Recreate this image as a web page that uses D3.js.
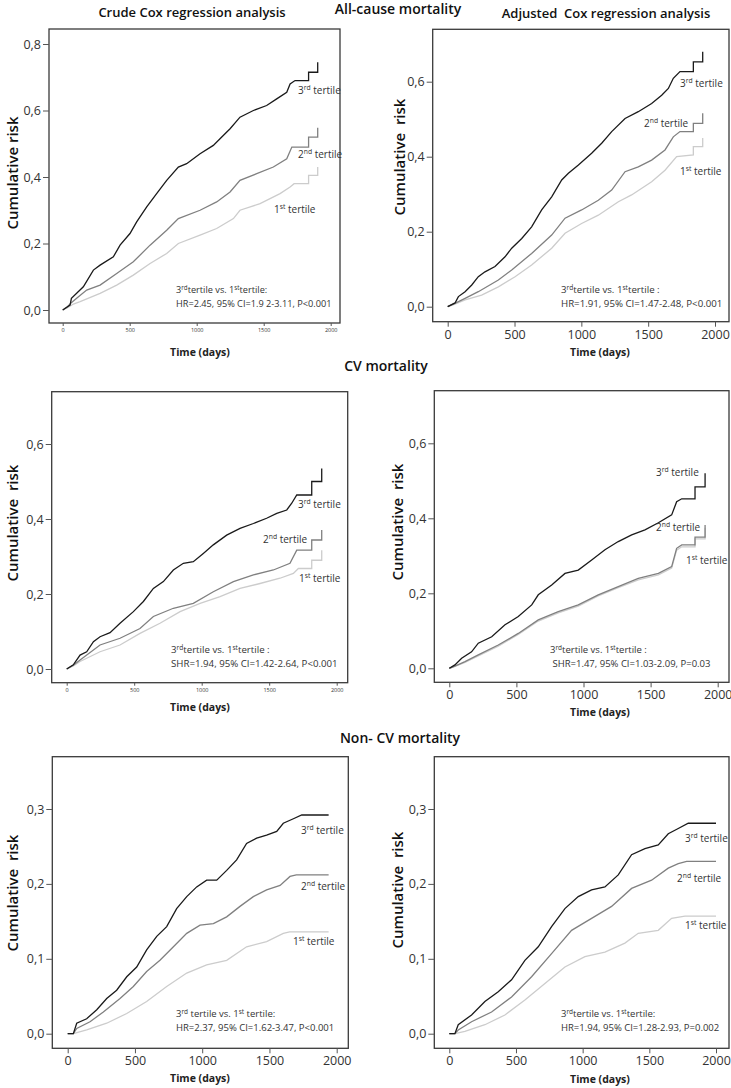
<!DOCTYPE html>
<html>
<head>
<meta charset="utf-8">
<script src="https://cdn.jsdelivr.net/npm/d3@7"></script>
<style>
  body { margin: 0; background: #fff; }
  text { font-family: "Open Sans", sans-serif; }
</style>
</head>
<body>
<script>
// Cumulative risk curves, [day, risk]
const allCrude3 = [[0,0],[55,0.015],[65,0.035],[154,0.07],[229,0.12],[279,0.135],[378,0.16],[428,0.195],[502,0.23],[552,0.265],[627,0.31],[701,0.35],[776,0.39],[863,0.43],[925,0.44],[1025,0.47],[1124,0.495],[1174,0.515],[1249,0.545],[1323,0.58],[1423,0.6],[1522,0.615],[1597,0.635],[1672,0.655],[1697,0.68],[1734,0.69],[1835,0.69],[1835,0.715],[1903,0.715],[1903,0.745]];
const allCrude2 = [[0,0],[30,0.008],[60,0.02],[104,0.035],[179,0.06],[279,0.075],[403,0.11],[527,0.145],[652,0.195],[776,0.24],[863,0.275],[1025,0.3],[1149,0.325],[1249,0.355],[1323,0.39],[1448,0.41],[1572,0.43],[1672,0.455],[1710,0.49],[1835,0.49],[1835,0.52],[1903,0.52],[1903,0.548]];
const allCrude1 = [[0,0],[40,0.008],[80,0.018],[130,0.025],[279,0.05],[403,0.075],[527,0.105],[652,0.14],[776,0.17],[863,0.2],[1025,0.225],[1149,0.245],[1274,0.275],[1323,0.3],[1473,0.32],[1622,0.35],[1697,0.37],[1727,0.38],[1835,0.38],[1835,0.405],[1903,0.405],[1903,0.43]];

const allAdj3 = [[0,0],[55,0.01],[80,0.027],[130,0.04],[180,0.058],[229,0.08],[279,0.093],[354,0.107],[429,0.133],[479,0.156],[554,0.182],[628,0.213],[703,0.258],[778,0.293],[853,0.338],[903,0.356],[978,0.378],[1077,0.409],[1152,0.436],[1227,0.467],[1327,0.502],[1426,0.52],[1526,0.542],[1601,0.564],[1651,0.582],[1688,0.609],[1738,0.627],[1838,0.627],[1838,0.653],[1908,0.653],[1908,0.68]];
const allAdj2 = [[0,0],[50,0.008],[130,0.022],[229,0.04],[379,0.071],[479,0.098],[628,0.142],[778,0.191],[878,0.236],[1002,0.258],[1127,0.284],[1227,0.311],[1327,0.36],[1426,0.373],[1526,0.391],[1626,0.418],[1688,0.453],[1738,0.467],[1838,0.467],[1838,0.489],[1908,0.489],[1908,0.516]];
const allAdj1 = [[0,0],[50,0.006],[130,0.018],[254,0.031],[379,0.053],[504,0.08],[628,0.111],[778,0.156],[878,0.196],[1002,0.222],[1127,0.244],[1277,0.28],[1376,0.298],[1526,0.333],[1626,0.364],[1713,0.4],[1838,0.405],[1838,0.427],[1908,0.427],[1908,0.45]];

const cvCrude3 = [[0,0],[49,0.011],[99,0.037],[148,0.046],[198,0.073],[247,0.086],[321,0.097],[395,0.122],[494,0.153],[568,0.18],[642,0.215],[716,0.233],[790,0.264],[864,0.282],[938,0.286],[1012,0.308],[1086,0.331],[1185,0.357],[1284,0.375],[1383,0.388],[1481,0.402],[1556,0.415],[1630,0.424],[1667,0.442],[1704,0.464],[1815,0.464],[1815,0.5],[1889,0.5],[1889,0.535]];
const cvCrude2 = [[0,0],[49,0.01],[99,0.024],[247,0.064],[395,0.082],[543,0.108],[642,0.14],[790,0.162],[938,0.175],[1086,0.206],[1235,0.233],[1383,0.251],[1531,0.264],[1654,0.282],[1704,0.317],[1815,0.317],[1815,0.344],[1889,0.344],[1889,0.371]];
const cvCrude1 = [[0,0],[49,0.008],[99,0.02],[247,0.046],[395,0.064],[543,0.095],[691,0.122],[840,0.153],[988,0.175],[1136,0.193],[1284,0.215],[1432,0.228],[1580,0.242],[1679,0.255],[1716,0.268],[1815,0.268],[1815,0.29],[1889,0.29],[1889,0.317]];

const cvAdj3 = [[0,0],[42,0.009],[92,0.027],[166,0.044],[216,0.067],[316,0.084],[415,0.116],[514,0.138],[614,0.169],[663,0.196],[763,0.222],[862,0.253],[961,0.262],[1061,0.289],[1160,0.316],[1259,0.338],[1359,0.356],[1458,0.369],[1558,0.388],[1657,0.409],[1694,0.444],[1732,0.452],[1831,0.452],[1831,0.484],[1906,0.484],[1906,0.52]];
const cvAdj2 = [[0,0],[42,0.006],[117,0.018],[216,0.036],[365,0.062],[514,0.093],[663,0.129],[812,0.151],[961,0.169],[1110,0.196],[1259,0.218],[1408,0.24],[1558,0.253],[1657,0.271],[1694,0.32],[1732,0.329],[1831,0.329],[1831,0.35],[1906,0.35],[1906,0.382]];
const cvAdj1 = [[0,0],[42,0.005],[117,0.016],[216,0.033],[365,0.059],[514,0.09],[663,0.126],[812,0.148],[961,0.166],[1110,0.193],[1259,0.215],[1408,0.236],[1558,0.249],[1657,0.267],[1694,0.315],[1732,0.324],[1831,0.324],[1831,0.345],[1906,0.345],[1906,0.375]];

const ncvCrude3 = [[0,0],[42,0],[67,0.014],[141,0.02],[216,0.032],[290,0.047],[364,0.058],[439,0.076],[513,0.089],[587,0.112],[662,0.13],[736,0.143],[810,0.167],[885,0.183],[959,0.196],[1033,0.205],[1108,0.205],[1182,0.218],[1256,0.232],[1330,0.254],[1405,0.261],[1479,0.265],[1554,0.27],[1603,0.281],[1678,0.287],[1740,0.292],[1940,0.292]];
const ncvCrude2 = [[0,0],[42,0],[67,0.007],[166,0.016],[265,0.029],[389,0.047],[488,0.063],[587,0.083],[686,0.098],[786,0.116],[885,0.134],[984,0.145],[1083,0.147],[1182,0.156],[1281,0.17],[1380,0.183],[1479,0.192],[1579,0.198],[1653,0.21],[1700,0.212],[1940,0.212]];
const ncvCrude1 = [[0,0],[42,0],[141,0.005],[290,0.014],[439,0.027],[587,0.043],[736,0.063],[885,0.081],[1033,0.092],[1182,0.098],[1330,0.116],[1479,0.123],[1603,0.134],[1650,0.136],[1940,0.136]];

const ncvAdj3 = [[0,0],[42,0],[67,0.012],[167,0.025],[267,0.043],[367,0.056],[467,0.072],[567,0.098],[667,0.116],[767,0.143],[867,0.167],[967,0.183],[1067,0.192],[1167,0.196],[1267,0.212],[1367,0.239],[1467,0.247],[1567,0.252],[1642,0.267],[1717,0.274],[1792,0.281],[2000,0.281]];
const ncvAdj2 = [[0,0],[42,0],[67,0.005],[167,0.016],[317,0.029],[467,0.049],[617,0.076],[767,0.107],[917,0.138],[1067,0.154],[1217,0.17],[1367,0.194],[1517,0.205],[1642,0.221],[1717,0.227],[1780,0.23],[2000,0.23]];
const ncvAdj1 = [[0,0],[42,0],[117,0.003],[267,0.012],[417,0.025],[567,0.045],[717,0.067],[867,0.089],[1017,0.103],[1167,0.109],[1317,0.121],[1417,0.134],[1567,0.138],[1667,0.154],[1767,0.157],[2000,0.157]];

const xTicks = [0, 500, 1000, 1500, 2000];
const yTicksAll = [0, 0.2, 0.4, 0.6, 0.8];
const yTicksCv = [0, 0.2, 0.4, 0.6];
const yTicksNcv = [0, 0.1, 0.2, 0.3];

// tertile colours: 3rd, 2nd, 1st
const colors = ['#1a1a1a', '#808080', '#cccccc'];

// Layout of each panel (frame box, plotting ranges, where the texts go)
const panels = [
  {frame: [49, 29, 340, 323], x: [62.7, 330.7], y: [310, 44], yMax: 0.8, yTicks: yTicksAll, smallX: true,
   series: [allCrude3, allCrude2, allCrude1],
   labels: [[298, 94], [298, 158], [274, 213]],
   note: [176, 293, 9.2], noteText: ['3^{rd}tertile vs. 1^{st}tertile:', 'HR=2.45, 95% CI=1.9 2-3.11, P<0.001'],
   yLabel: [13, 173, 'Cumulative risk'], xLabel: [200, 356]},
  {frame: [432.7, 29.3, 729, 321.7], x: [447.7, 715], y: [306.7, 81.7], yMax: 0.6, yTicks: yTicksCv,
   series: [allAdj3, allAdj2, allAdj1],
   labels: [[680, 87], [644, 127], [680, 175]],
   note: [561, 293, 9.7], noteText: ['3^{rd}tertile vs. 1^{st}tertile :', 'HR=1.91, 95% CI=1.47-2.48, P<0.001'],
   yLabel: [400, 157, 'Cumulative\u00a0 risk'], xLabel: [600, 356]},
  {frame: [51.7, 391.7, 347.7, 682.7], x: [66.7, 336.7], y: [669, 444], yMax: 0.6, yTicks: yTicksCv, smallX: true,
   series: [cvCrude3, cvCrude2, cvCrude1],
   labels: [[298, 508], [263, 543], [299, 582]],
   note: [171, 653, 9.7], noteText: ['3^{rd}tertile vs. 1^{st}tertile :', 'SHR=1.94, 95% CI=1.42-2.64, P<0.001'],
   yLabel: [13, 523, 'Cumulative\u00a0 risk'], xLabel: [200, 711]},
  {frame: [434.3, 390.7, 729, 682.3], x: [449.3, 717.7], y: [668.3, 443.3], yMax: 0.6, yTicks: yTicksCv,
   series: [cvAdj3, cvAdj2, cvAdj1],
   labels: [[656, 476], [656, 531], [686, 564]],
   note: [550, 653, 9.5], noteText: ['3^{rd}tertile vs. 1^{st}tertile :', '\u00a0SHR=1.47, 95% CI=1.03-2.09, P=0.03'],
   yLabel: [398, 522, 'Cumulative\u00a0 risk'], xLabel: [600, 716]},
  {frame: [52.3, 756.7, 348.3, 1048.3], x: [67.7, 336.7], y: [1033.7, 809], yMax: 0.3, yTicks: yTicksNcv,
   series: [ncvCrude3, ncvCrude2, ncvCrude1],
   labels: [[301, 834], [301, 890], [293, 945]],
   note: [176, 1017, 9.5], noteText: ['3^{rd} tertile vs. 1^{st} tertile:', 'HR=2.37, 95% CI=1.62-3.47, P<0.001'],
   yLabel: [13, 893, 'Cumulative\u00a0 risk'], xLabel: [200, 1082]},
  {frame: [434.3, 756.7, 729, 1048.3], x: [449.3, 716], y: [1033.7, 809], yMax: 0.3, yTicks: yTicksNcv,
   series: [ncvAdj3, ncvAdj2, ncvAdj1],
   labels: [[685, 842], [677, 882], [685, 929]],
   note: [561, 1017, 9.5], noteText: ['3^{rd}tertile vs. 1^{st}tertile:', 'HR=1.94, 95% CI=1.28-2.93, P=0.002'],
   yLabel: [398, 890, 'Cumulative\u00a0 risk'], xLabel: [600, 1083]}
];

const tertileNames = [['3', 'rd'], ['2', 'nd'], ['1', 'st']];

const svg = d3.select('body').append('svg')
  .attr('width', 731)
  .attr('height', 1088);

// Writes "a^{b}c" with b as superscript
function richText(sel, str, size) {
  const parts = str.split(/(\^\{[^}]*\})/).filter((p) => p.length);
  let raised = false;
  parts.forEach((p) => {
    if (p.startsWith('^{')) {
      sel.append('tspan').attr('font-size', size * 0.68).attr('dy', -size * 0.36).text(p.slice(2, -1));
      raised = true;
    } else {
      sel.append('tspan').attr('dy', raised ? size * 0.36 : 0).text(p);
      raised = false;
    }
  });
}

// Section titles
const titles = [
  [192, 17, 'Crude Cox regression analysis', 13],
  [606, 18, 'Adjusted\u00a0 Cox regression analysis', 13],
  [398, 14, 'All-cause mortality', 14],
  [386, 371, 'CV mortality', 14],
  [400, 743, 'Non- CV mortality', 14]
];
svg.selectAll('.title').data(titles).enter().append('text')
  .attr('class', 'title')
  .attr('x', (d) => d[0]).attr('y', (d) => d[1])
  .attr('text-anchor', 'middle')
  .attr('font-weight', 600)
  .attr('font-size', (d) => d[3])
  .attr('fill', '#111')
  .text((d) => d[2]);

const commaFmt = (v) => d3.format('.1f')(v).replace('.', ',');

panels.forEach((p) => {
  const g = svg.append('g');
  const [fx0, fy0, fx1, fy1] = p.frame;
  const x = d3.scaleLinear().domain([0, 2000]).range(p.x);
  const y = d3.scaleLinear().domain([0, p.yMax]).range(p.y);

  // curves, 1st tertile drawn first so darker ones sit on top
  const line = d3.line().x((d) => x(d[0])).y((d) => y(d[1]));
  [2, 1, 0].forEach((i) => {
    g.append('path')
      .attr('d', line(p.series[i]))
      .attr('fill', 'none')
      .attr('stroke', colors[i])
      .attr('stroke-width', 1.3)
      .attr('stroke-linejoin', 'miter');
  });

  g.append('rect')
    .attr('x', fx0).attr('y', fy0)
    .attr('width', fx1 - fx0).attr('height', fy1 - fy0)
    .attr('fill', 'none')
    .attr('stroke', '#3a3a3a')
    .attr('stroke-width', 1.3);

  const yAxis = g.append('g')
    .attr('transform', `translate(${fx0},0)`)
    .call(d3.axisLeft(y).tickValues(p.yTicks).tickFormat(commaFmt).tickSize(6).tickPadding(2));
  yAxis.select('.domain').remove();
  yAxis.selectAll('text').attr('font-family', 'Liberation Sans, Arial, sans-serif').attr('font-size', 12.5).attr('fill', '#333');
  yAxis.selectAll('line').attr('stroke', '#555');

  const xAxis = g.append('g')
    .attr('transform', `translate(0,${fy1})`)
    .call(d3.axisBottom(x).tickValues(xTicks).tickFormat(d3.format('d')).tickSize(p.smallX ? 3 : 5).tickPadding(p.smallX ? 2 : 3));
  xAxis.select('.domain').remove();
  xAxis.selectAll('text').attr('font-family', 'Liberation Sans, Arial, sans-serif')
    .attr('font-size', p.smallX ? 5.5 : 12.5).attr('fill', '#333');
  xAxis.selectAll('line').attr('stroke', '#555');

  // axis titles
  g.append('text')
    .attr('transform', `translate(${p.yLabel[0]},${p.yLabel[1]}) rotate(-90)`)
    .attr('text-anchor', 'middle')
    .attr('dy', '0.35em')
    .attr('font-weight', 600)
    .attr('font-size', 15)
    .attr('fill', '#111')
    .text(p.yLabel[2]);
  g.append('text')
    .attr('x', p.xLabel[0]).attr('y', p.xLabel[1])
    .attr('text-anchor', 'middle')
    .attr('font-family', 'Liberation Sans, Arial, sans-serif')
    .attr('font-weight', 'bold')
    .attr('font-size', 10.5)
    .attr('fill', '#222')
    .text('Time (days)');

  // tertile labels
  p.labels.forEach((pos, i) => {
    const t = g.append('text')
      .attr('x', pos[0]).attr('y', pos[1])
      .attr('font-size', 10)
      .attr('fill', '#333');
    richText(t, `${tertileNames[i][0]}^{${tertileNames[i][1]}} tertile`, 10);
  });

  // comparison note
  p.noteText.forEach((s, i) => {
    const t = g.append('text')
      .attr('x', p.note[0]).attr('y', p.note[1] + i * 14)
      .attr('font-size', p.note[2])
      .attr('fill', '#333');
    richText(t, s, p.note[2]);
  });
});
</script>
</body>
</html>
